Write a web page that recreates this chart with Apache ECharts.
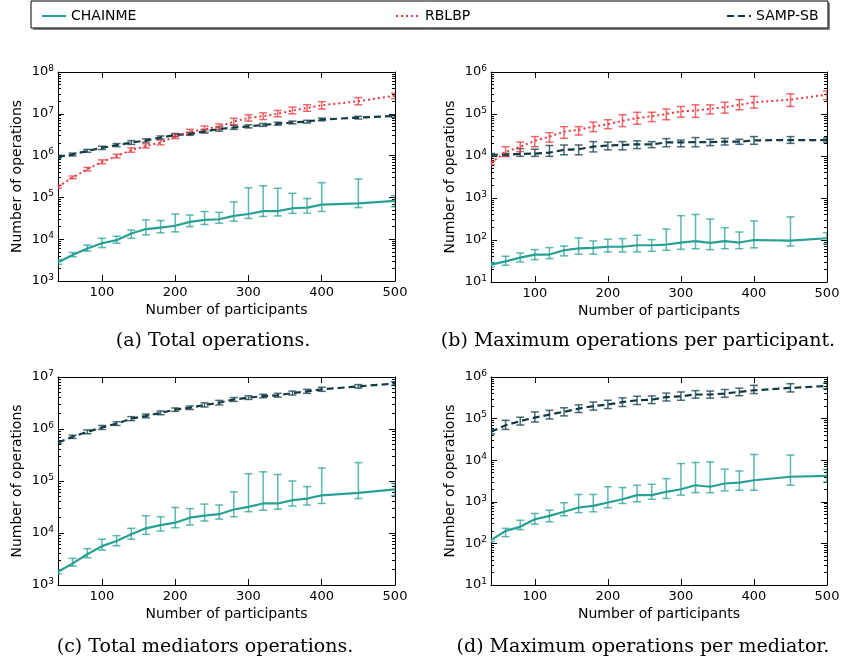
<!DOCTYPE html>
<html><head><meta charset="utf-8">
<script src="https://cdn.jsdelivr.net/npm/echarts@6/dist/echarts.min.js"></script>
<style>html,body{margin:0;padding:0;background:#fff}#c{width:845px;height:665px}</style>
</head><body><div id="c"></div><script>
const participants = [40,60,80,100,120,140,160,180,200,220,240,260,280,300,320,340,360,380,400,450,500];
const xTickValues = [100,200,300,400,500];
const seriesNames = ['CHAINME','RBLBP','SAMP-SB'];
const captions = ['(a) Total operations.','(b) Maximum operations per participant.','(c) Total mediators operations.','(d) Maximum operations per mediator.'];
const xAxisTitle = 'Number of participants';
const yAxisTitle = 'Number of operations';

// (a) Total operations
const aChainme   = [2800,4200,6000,8000,9500,13700,17500,19000,21000,26000,29000,30000,36000,40000,47000,47000,55000,57000,67000,72000,83000];
const aChainmeLo = [2500,3800,5200,6300,8000,10500,12700,14200,15000,20000,22500,24000,27000,31500,35000,36000,41500,42000,46000,57000,60000];
const aChainmeHi = [3200,4800,7200,10500,11800,16500,29000,28000,40000,38000,46000,44000,78000,170000,190000,165000,125000,94000,225000,275000,110000];
const aRblbp   = [180000,300000,470000,710000,970000,1350000,1700000,2050000,2850000,3700000,4300000,4900000,6500000,8000000,8800000,10000000,12000000,13800000,16000000,20000000,27000000];
const aRblbpLo = [165000,280000,430000,640000,880000,1200000,1520000,1800000,2550000,3250000,3700000,4250000,5500000,6700000,7300000,8500000,10000000,11500000,13000000,16500000,23000000];
const aRblbpHi = [195000,325000,520000,790000,1080000,1530000,1920000,2350000,3200000,4250000,5100000,5700000,7800000,9500000,10500000,12000000,14500000,16500000,19500000,24500000,31000000];
const aSamp   = [940000,1060000,1300000,1530000,1780000,2050000,2300000,2700000,3100000,3300000,3800000,4300000,4700000,5000000,5400000,5800000,6200000,6500000,7300000,8100000,8900000];
const aSampLo = [870000,980000,1200000,1400000,1640000,1850000,2100000,2480000,2850000,3050000,3450000,3850000,4250000,4600000,5000000,5350000,5750000,6000000,6800000,7500000,8300000];
const aSampHi = [1020000,1150000,1410000,1680000,1940000,2280000,2520000,2950000,3380000,3600000,4200000,4850000,5300000,5450000,5850000,6300000,6700000,7000000,7900000,8700000,9500000];

// (b) Maximum operations per participant
const bChainme   = [26,31,38,45,45,57,63,65,69,69,75,75,78,87,94,85,94,87,100,97,110];
const bChainmeLo = [23,25,30,34,36,42,46,46,52,52,52,54,57,60,62,59,62,62,65,72,80];
const bChainmeHi = [29,41,49,59,66,72,112,95,104,108,130,102,182,380,405,315,195,155,285,355,150];
const bRblbp   = [6800,12600,16700,23000,29000,38000,42000,50000,57000,69000,80000,88000,100000,116000,120000,133000,145000,165000,190000,220000,290000];
const bRblbpLo = [6200,9800,12700,16600,21400,26300,31600,38000,44700,50000,57000,66000,73000,84000,83000,100000,105000,126000,138000,151000,220000];
const bRblbpHi = [7500,16600,21400,29000,36000,50000,50000,64000,73000,96000,110000,110000,132000,151000,165000,165000,190000,220000,263000,302000,350000];
const bSamp   = [10700,10700,11200,11400,12000,14000,14500,16700,17800,18300,19000,19000,21000,21000,21500,21500,22000,22000,23500,24000,24000];
const bSampLo = [9800,9800,9800,9800,9800,10700,10700,12500,14000,14000,15000,15800,16600,16600,16600,17700,18300,19000,19000,20000,21000];
const bSampHi = [11500,11500,15000,14500,17800,18300,18300,22000,21400,22000,23000,22000,26000,24000,27500,25000,26300,25000,29000,29000,27000];

// (c) Total mediators operations
const cChainme   = [1800,2600,3900,5600,7000,9500,12300,14200,15800,19700,21500,23000,28300,31800,37000,37000,43000,46000,53000,59000,69000];
const cChainmeLo = [1650,2300,3350,4700,5700,7600,9400,10900,12600,14200,17000,18500,20500,25700,27500,28700,33000,34500,37000,46000,52000];
const cChainmeHi = [1950,3250,5000,7600,8900,12300,21500,20500,31000,29500,36000,34500,62000,138000,150000,133000,100000,78000,178000,226000,90000];
const cSamp   = [550000,710000,880000,1070000,1270000,1580000,1780000,2040000,2350000,2560000,2900000,3200000,3700000,4000000,4300000,4450000,4900000,5300000,5800000,6600000,7500000];
const cSampLo = [520000,660000,810000,980000,1170000,1450000,1640000,1880000,2180000,2370000,2650000,2900000,3400000,3700000,3980000,4100000,4500000,4850000,5300000,6100000,6900000];
const cSampHi = [590000,760000,960000,1170000,1380000,1730000,1940000,2220000,2540000,2770000,3180000,3550000,4020000,4350000,4650000,4850000,5350000,5800000,6350000,7150000,8100000];

// (d) Maximum operations per mediator
const dChainme   = [120,200,250,380,460,575,730,800,960,1150,1450,1450,1740,2000,2500,2300,2750,2900,3300,4000,4200];
const dChainmeLo = [110,145,215,290,330,460,550,575,720,910,1000,1150,1200,1450,1670,1650,1830,1900,1900,2500,3000];
const dChainmeHi = [130,230,360,525,630,950,1500,1500,2300,2200,2500,2650,3600,8300,8800,9100,6100,5500,13700,13300,6000];
const dSamp   = [48000,69000,87000,106000,125000,145000,174000,200000,218000,248000,276000,285000,330000,344000,380000,380000,400000,440000,480000,545000,610000];
const dSampLo = [43000,55000,70000,83000,98000,116000,140000,160000,174000,195000,218000,230000,265000,276000,310000,310000,325000,355000,400000,437000,520000];
const dSampHi = [54000,91000,108000,145000,158000,182000,214000,250000,276000,315000,345000,350000,410000,437000,470000,460000,500000,540000,630000,690000,720000];

const colors = {'CHAINME':'#27a093','RBLBP':'#e8383d','SAMP-SB':'#113a45'};
const lineTypes = {'CHAINME':'solid','RBLBP':[2,3],'SAMP-SB':[7,4]};
const lineWidths = {'CHAINME':2.2,'RBLBP':2,'SAMP-SB':2.2};

const panels = [
  {grid:{left:58,top:72,width:337,height:209}, exp:[3,8], data:{'CHAINME':[aChainme,aChainmeLo,aChainmeHi],'RBLBP':[aRblbp,aRblbpLo,aRblbpHi],'SAMP-SB':[aSamp,aSampLo,aSampHi]}, cap:[213,341]},
  {grid:{left:491,top:72,width:336,height:210}, exp:[1,6], data:{'CHAINME':[bChainme,bChainmeLo,bChainmeHi],'RBLBP':[bRblbp,bRblbpLo,bRblbpHi],'SAMP-SB':[bSamp,bSampLo,bSampHi]}, cap:[638,341]},
  {grid:{left:58,top:377,width:337,height:208}, exp:[3,7], data:{'CHAINME':[cChainme,cChainmeLo,cChainmeHi],'SAMP-SB':[cSamp,cSampLo,cSampHi]}, cap:[205,647]},
  {grid:{left:491,top:377,width:336,height:208}, exp:[1,6], data:{'CHAINME':[dChainme,dChainmeLo,dChainmeHi],'SAMP-SB':[dSamp,dSampLo,dSampHi]}, cap:[643,647]}
];

const FONT = 'DejaVu Sans';
const grids = [], xAxes = [], yAxes = [], series = [], graphics = [];

panels.forEach((p, i) => {
  grids.push(Object.assign({containLabel:false}, p.grid));
  const yMin = Math.pow(10, p.exp[0]), yMax = Math.pow(10, p.exp[1]);
  const decades = [], minors = [];
  for (let e = p.exp[0]; e <= p.exp[1]; e++) {
    decades.push(Math.pow(10, e));
    if (e < p.exp[1]) for (let m = 2; m <= 9; m++) minors.push(m * Math.pow(10, e));
  }
  const axLine = {show:true, onZero:false, lineStyle:{color:'#000', width:1}};
  xAxes.push({gridIndex:i, type:'value', min:40, max:500, position:'bottom', axisLine:axLine,
    axisTick:{show:true, inside:true, length:6, customValues:xTickValues, lineStyle:{color:'#000'}},
    axisLabel:{customValues:xTickValues, color:'#000', fontFamily:FONT, fontSize:13, margin:5},
    splitLine:{show:false},
    name:xAxisTitle, nameLocation:'middle', nameGap:22, nameTextStyle:{color:'#000', fontFamily:FONT, fontSize:14}});
  xAxes.push({gridIndex:i, type:'value', min:40, max:500, position:'top', axisLine:axLine,
    axisTick:{show:true, inside:true, length:6, customValues:xTickValues, lineStyle:{color:'#000'}},
    axisLabel:{show:false}, splitLine:{show:false}});
  const yBase = {gridIndex:i, type:'log', logBase:10, min:yMin, max:yMax, splitLine:{show:false}};
  yAxes.push(Object.assign({}, yBase, {position:'left', axisLine:axLine,
    axisTick:{show:true, inside:true, length:6, customValues:decades, lineStyle:{color:'#000'}},
    axisLabel:{customValues:decades, color:'#000', fontFamily:FONT, margin:4,
      formatter: v => '{b|10}{s|' + Math.round(Math.log10(v)) + '}',
      rich:{b:{fontSize:13, fontFamily:FONT, color:'#000'}, s:{fontSize:9, fontFamily:FONT, color:'#000', verticalAlign:'bottom', padding:[0,0,7,0]}}},
    name:yAxisTitle, nameLocation:'middle', nameGap:34, nameRotate:90, nameTextStyle:{color:'#000', fontFamily:FONT, fontSize:14}}));
  yAxes.push(Object.assign({}, yBase, {position:'right', axisLine:axLine,
    axisTick:{show:true, inside:true, length:6, customValues:decades, lineStyle:{color:'#000'}},
    axisLabel:{show:false}}));
  yAxes.push(Object.assign({}, yBase, {position:'left', axisLine:{show:false},
    axisTick:{show:true, inside:true, length:3, customValues:minors, lineStyle:{color:'#000'}},
    axisLabel:{show:false}}));
  yAxes.push(Object.assign({}, yBase, {position:'right', axisLine:{show:false},
    axisTick:{show:true, inside:true, length:3, customValues:minors, lineStyle:{color:'#000'}},
    axisLabel:{show:false}}));

  ['SAMP-SB','RBLBP','CHAINME'].forEach(name => {
    const d = p.data[name];
    if (!d) return;
    const col = colors[name];
    series.push({type:'custom', name:name + ' error', xAxisIndex:2*i, yAxisIndex:4*i, clip:true, silent:true,
      data: participants.map((x, k) => [x, d[1][k], d[2][k]]),
      renderItem: (params, api) => {
        const x = api.value(0);
        const lo = api.coord([x, api.value(1)]);
        const hi = api.coord([x, api.value(2)]);
        const w = 4;
        const st = {stroke: col, lineWidth: 1.5, opacity: 0.75};
        return {type:'group', children:[
          {type:'line', shape:{x1:lo[0], y1:lo[1], x2:hi[0], y2:hi[1]}, style:st},
          {type:'line', shape:{x1:lo[0]-w, y1:lo[1], x2:lo[0]+w, y2:lo[1]}, style:st},
          {type:'line', shape:{x1:hi[0]-w, y1:hi[1], x2:hi[0]+w, y2:hi[1]}, style:st}
        ]};
      }});
    series.push({type:'line', name:name, xAxisIndex:2*i, yAxisIndex:4*i, symbol:'none', showSymbol:false,
      data: participants.map((x, k) => [x, d[0][k]]),
      lineStyle:{color:col, width:lineWidths[name], type:lineTypes[name]},
      itemStyle:{color:col}, z:3});
  });

  graphics.push({type:'text', x:p.cap[0], y:p.cap[1],
    style:{text:captions[i], x:0, y:0, textAlign:'center', textVerticalAlign:'middle', font:'19px "DejaVu Serif"', fill:'#000'}});
});

// legend frame
graphics.push({type:'rect', shape:{x:33, y:3, width:797, height:27}, style:{fill:'#888', stroke:null}, z:-2});
graphics.push({type:'rect', shape:{x:31, y:1, width:797, height:27}, style:{fill:'#fff', stroke:'#000', lineWidth:1}, z:-1});

const legendBase = {top:4, itemWidth:24, itemHeight:12, itemGap:8, itemStyle:{opacity:0},
  textStyle:{fontFamily:FONT, fontSize:14, color:'#000'}, selectedMode:false};
const chart = echarts.init(document.getElementById('c'), null, {renderer:'canvas'});
chart.setOption({
  animation:false,
  backgroundColor:'#fff',
  grid:grids, xAxis:xAxes, yAxis:yAxes, series:series,
  legend:[
    Object.assign({}, legendBase, {data:['CHAINME'], left:36}),
    Object.assign({}, legendBase, {data:['RBLBP'], left:390}),
    Object.assign({}, legendBase, {data:['SAMP-SB'], left:721})
  ],
  graphic:graphics
});
</script></body></html>
